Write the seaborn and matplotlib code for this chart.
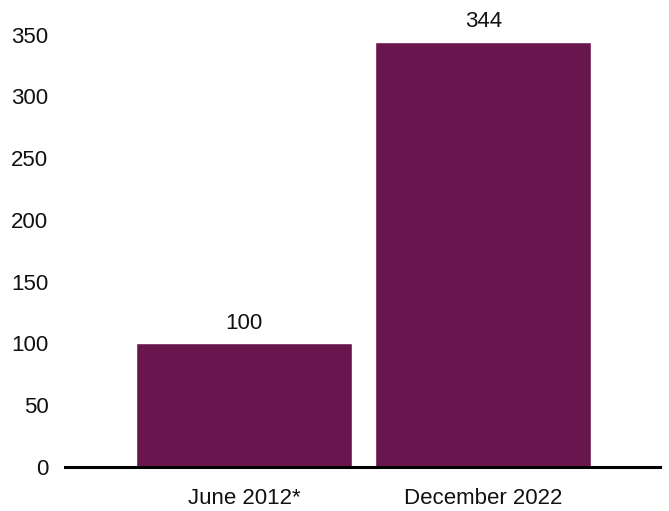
import seaborn as sns
import matplotlib.pyplot as plt
import pandas as pd

# data
periods = ["June 2012*", "December 2022"]
values = [100, 344]
bar_color = "#6a164e"

sns.set_style("white")
plt.rcParams['font.family'] = ['Liberation Sans', 'DejaVu Sans']

df = pd.DataFrame({"period": periods, "value": values})

fig = plt.figure(figsize=(6.69, 5.11), dpi=100)
ax = fig.add_axes([65 / 669, 44 / 511, 595 / 669, 457 / 511])

sns.barplot(data=df, x="period", y="value", color=bar_color, width=0.904,
            saturation=1, ax=ax)

for i, v in enumerate(values):
    ax.text(i, v + 8, str(v), ha="center", va="bottom", fontsize=16, color="#111111")

ax.set_xlim(-0.75, 1.74)
ax.set_ylim(0, 370)
ax.set_yticks(range(0, 351, 50))
ax.set_xlabel("")
ax.set_ylabel("")
ax.tick_params(axis="y", length=0, pad=12, labelsize=16, colors="#111111")
ax.tick_params(axis="x", length=0, pad=15, labelsize=16, colors="#111111")

sns.despine(ax=ax, left=True)
ax.spines["bottom"].set_color("black")
ax.spines["bottom"].set_linewidth(2.2)

fig.savefig("out.png", dpi=100)
